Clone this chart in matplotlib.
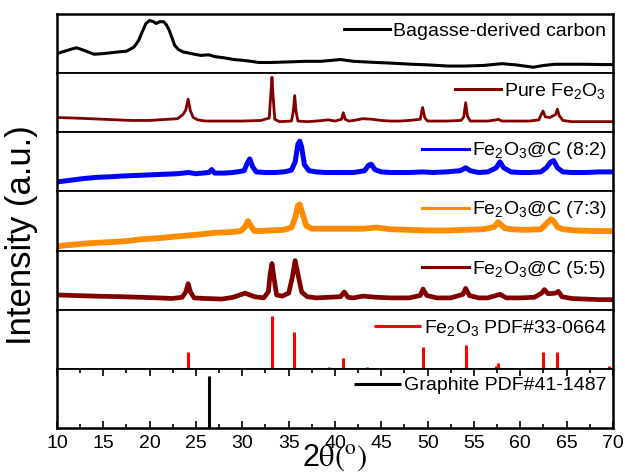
import matplotlib
matplotlib.use("Agg")
import matplotlib.pyplot as plt
from matplotlib.ticker import MultipleLocator

plt.rcParams['font.family'] = ['Liberation Sans', 'DejaVu Sans']
plt.rcParams['mathtext.fontset'] = 'custom'
plt.rcParams['mathtext.rm'] = 'Liberation Sans'
plt.rcParams['mathtext.it'] = 'Liberation Sans:italic'
plt.rcParams['mathtext.bf'] = 'Liberation Sans:bold'

# ---------------- data (fraction of panel height) ----------------
bagasse_x = [10, 11, 12.1, 13, 14, 15, 16.7, 17.5, 18.3, 18.8, 19.2, 19.6, 20.0, 20.4, 20.7, 21.1,
             21.5, 21.8, 22.1, 22.4, 22.7, 23.1, 23.6, 24.5, 25.5, 26.4, 27, 28, 29.1, 30.5, 31.8,
             33, 35, 36.8, 38.5, 40.6, 42, 44.5, 46, 48.3, 50, 52.2, 54, 56, 58.0, 59.5, 61.4,
             62.5, 63.7, 65, 67, 69, 70]
bagasse_y = [0.33, 0.38, 0.43, 0.38, 0.32, 0.33, 0.36, 0.37, 0.44, 0.55, 0.70, 0.84, 0.89, 0.87,
             0.84, 0.87, 0.87, 0.82, 0.73, 0.60, 0.47, 0.40, 0.36, 0.33, 0.30, 0.31, 0.28, 0.26,
             0.23, 0.21, 0.18, 0.18, 0.19, 0.20, 0.20, 0.23, 0.20, 0.18, 0.17, 0.15, 0.14, 0.12,
             0.12, 0.13, 0.16, 0.14, 0.10, 0.13, 0.15, 0.15, 0.15, 0.145, 0.145]

pure_x = [10, 12, 15, 18, 20, 22, 23.0, 23.6, 23.9, 24.15, 24.4, 24.7, 25.2, 26, 28, 30, 32, 32.9,
          33.1, 33.2, 33.3, 33.5, 34, 35.3, 35.5, 35.65, 35.8, 36.0, 37, 38, 39.3, 40, 40.7, 40.9,
          41.1, 41.5, 42, 43, 44, 45, 46, 47, 48, 49.2, 49.45, 49.7, 50, 51, 52, 53.6, 53.9, 54.1,
          54.3, 54.6, 55.5, 56.5, 57.4, 57.6, 58, 59, 60, 61, 62.0, 62.25, 62.45, 62.7, 63.2,
          63.8, 64.0, 64.2, 64.6, 65.5, 67, 69, 70]
pure_y = [0.25, 0.24, 0.22, 0.20, 0.20, 0.22, 0.23, 0.30, 0.38, 0.56, 0.36, 0.25, 0.21, 0.19, 0.19,
          0.19, 0.20, 0.24, 0.70, 0.93, 0.65, 0.22, 0.18, 0.19, 0.35, 0.62, 0.35, 0.19, 0.18, 0.19,
          0.21, 0.19, 0.22, 0.33, 0.22, 0.19, 0.20, 0.23, 0.22, 0.20, 0.19, 0.19, 0.20, 0.22, 0.42,
          0.24, 0.19, 0.19, 0.19, 0.20, 0.26, 0.50, 0.27, 0.19, 0.19, 0.19, 0.21, 0.22, 0.19, 0.19,
          0.19, 0.19, 0.21, 0.30, 0.36, 0.26, 0.25, 0.30, 0.39, 0.28, 0.20, 0.18, 0.18, 0.18, 0.18]

c82_x = [10, 11, 12, 13, 14.5, 16, 17, 18.5, 20, 21.5, 23, 24.2, 25, 26.4, 26.7, 27.0, 28, 29,
         30.2, 30.5, 30.8, 31.1, 31.5, 32.5, 33.5, 34.5, 35.3, 35.7, 36.0, 36.2, 36.4, 36.7, 37.2,
         38, 39, 40, 41, 42, 43.2, 43.6, 43.9, 44.3, 45, 46, 47, 48, 49.5, 50.5, 52, 53.5, 54.1,
         54.6, 55.5, 56.5, 57.4, 57.8, 58.2, 59, 60, 61, 62.2, 62.8, 63.3, 63.6, 64.0, 64.6, 65.5,
         67, 68.5, 70]
c82_y = [0.16, 0.18, 0.20, 0.22, 0.24, 0.25, 0.26, 0.27, 0.28, 0.29, 0.30, 0.32, 0.30, 0.32, 0.37,
         0.31, 0.31, 0.32, 0.35, 0.47, 0.55, 0.42, 0.33, 0.32, 0.32, 0.33, 0.36, 0.50, 0.80, 0.85,
         0.75, 0.45, 0.35, 0.33, 0.32, 0.32, 0.32, 0.32, 0.35, 0.44, 0.46, 0.37, 0.33, 0.32, 0.32,
         0.32, 0.33, 0.32, 0.33, 0.35, 0.40, 0.35, 0.32, 0.33, 0.40, 0.50, 0.40, 0.33, 0.32, 0.32,
         0.33, 0.40, 0.50, 0.52, 0.40, 0.33, 0.32, 0.32, 0.33, 0.33]

c73_x = [10, 11, 12.5, 14, 15.5, 17.5, 19, 21, 23, 25.2, 27, 28.5, 29.8, 30.3, 30.6, 30.9, 31.3,
         32, 33, 34.45, 35.3, 35.7, 36.0, 36.2, 36.5, 36.9, 37.5, 39, 41, 43, 44.5, 46, 48, 50,
         52.2, 54, 56, 57.2, 57.6, 57.9, 58.3, 59, 60.5, 62.2, 62.8, 63.3, 63.6, 64.0, 64.6, 66,
         68, 70]
c73_y = [0.07, 0.09, 0.11, 0.13, 0.14, 0.16, 0.19, 0.21, 0.24, 0.27, 0.30, 0.31, 0.33, 0.40, 0.50,
         0.42, 0.33, 0.33, 0.34, 0.35, 0.39, 0.55, 0.76, 0.78, 0.62, 0.42, 0.37, 0.37, 0.37, 0.37,
         0.39, 0.36, 0.35, 0.34, 0.34, 0.35, 0.36, 0.40, 0.48, 0.44, 0.38, 0.36, 0.35, 0.36, 0.45,
         0.53, 0.50, 0.40, 0.36, 0.34, 0.33, 0.33]

c55_x = [10, 12, 14, 17, 19, 21, 22.4, 23.5, 23.9, 24.15, 24.4, 24.8, 26, 27.8, 29, 30.3, 31.3,
         32.3, 32.8, 33.0, 33.2, 33.4, 33.7, 34.3, 35.0, 35.4, 35.7, 36.0, 36.4, 37, 38, 39.3,
         40.6, 41.0, 41.4, 42, 43, 44.5, 46, 48, 49.2, 49.5, 49.9, 51, 52.5, 53.8, 54.1, 54.5,
         55.5, 56.5, 57.8, 58.5, 60, 61.5, 62.3, 62.6, 63.0, 63.8, 64.1, 64.5, 65.5, 67, 68.5, 70]
c55_y = [0.25, 0.24, 0.23, 0.22, 0.21, 0.20, 0.19, 0.21, 0.30, 0.44, 0.30, 0.20, 0.19, 0.18, 0.21,
         0.28, 0.22, 0.20, 0.30, 0.60, 0.78, 0.55, 0.25, 0.23, 0.28, 0.55, 0.83, 0.60, 0.30, 0.22,
         0.20, 0.21, 0.22, 0.30, 0.21, 0.20, 0.23, 0.21, 0.20, 0.20, 0.24, 0.35, 0.24, 0.20, 0.20,
         0.26, 0.36, 0.24, 0.20, 0.20, 0.26, 0.20, 0.20, 0.21, 0.28, 0.34, 0.27, 0.28, 0.31, 0.22,
         0.19, 0.18, 0.17, 0.17]

pdf_fe_x = [24.1, 33.2, 35.6, 39.3, 40.9, 43.5, 49.5, 54.1, 56.2, 57.4, 57.6, 62.4, 64.0, 66.0, 69.6]
pdf_fe_y = [0.29, 0.90, 0.63, 0.03, 0.19, 0.03, 0.37, 0.41, 0.02, 0.05, 0.10, 0.28, 0.28, 0.02, 0.04]

pdf_c_x = [26.4]
pdf_c_y = [0.88]

labels = ['Bagasse-derived carbon', 'Pure Fe$_2$O$_3$', 'Fe$_2$O$_3$@C (8:2)',
          'Fe$_2$O$_3$@C (7:3)', 'Fe$_2$O$_3$@C (5:5)', 'Fe$_2$O$_3$ PDF#33-0664',
          'Graphite PDF#41-1487']
colors = ['#000000', '#800000', '#0000FF', '#FF8C00', '#800000', '#FF0000', '#000000']
xticks = [10, 15, 20, 25, 30, 35, 40, 45, 50, 55, 60, 65, 70]

# ---------------- figure ----------------
fig = plt.figure(figsize=(6.25, 4.75), dpi=100)
gs = fig.add_gridspec(7, 1, left=57/625, right=613/625, bottom=1-428/475, top=1-14/475, hspace=0)
axes = [fig.add_subplot(gs[i, 0]) for i in range(7)]

curves = [(bagasse_x, bagasse_y, 2.2), (pure_x, pure_y, 2.0), (c82_x, c82_y, 3.6),
          (c73_x, c73_y, 4.2), (c55_x, c55_y, 3.4)]

for i, ax in enumerate(axes):
    ax.set_xlim(10, 70)
    ax.set_ylim(0, 1)
    ax.set_yticks([])
    for name, s in ax.spines.items():
        s.set_linewidth(1.8 if name in ('left', 'right') else 1.3)
    if i == 0:
        ax.spines['top'].set_linewidth(1.8)
    if i == 6:
        ax.spines['bottom'].set_linewidth(1.8)
    if i < 5:
        x, y, lw = curves[i]
        ax.plot(x, y, color=colors[i], lw=lw, label=labels[i])
    elif i == 5:
        ax.vlines(pdf_fe_x, 0, pdf_fe_y, color=colors[i], lw=2.2, label=labels[i])
    else:
        ax.vlines(pdf_c_x, 0, pdf_c_y, color=colors[i], lw=2.2, label=labels[i])
    if i < 6:
        ax.set_xticks([])
    leg = ax.legend(loc='upper right', bbox_to_anchor=(0.995, 0.93), frameon=False, fontsize=14,
                    handlelength=2.4, handletextpad=0.15, borderaxespad=0.0, borderpad=0.2)
    for h in leg.legend_handles:
        h.set_linewidth(2.2)

axb = axes[-1]
axb.set_xticks(xticks)
axb.xaxis.set_minor_locator(MultipleLocator(2.5))
axb.tick_params(axis='x', which='both', direction='in', top=True, bottom=True,
                labelsize=14, pad=5, width=1.2)
axb.tick_params(axis='x', which='major', length=5)
axb.tick_params(axis='x', which='minor', length=3)
axb.set_xlabel(r'2$\mathrm{θ}(^{\rm o})$', fontsize=22, math_fontfamily='stix', labelpad=-7)

fig.text(22/625, 1-235/475, 'Intensity (a.u.)', rotation=90, fontsize=25,
         ha='center', va='center')

fig.savefig('out.png', dpi=100)
